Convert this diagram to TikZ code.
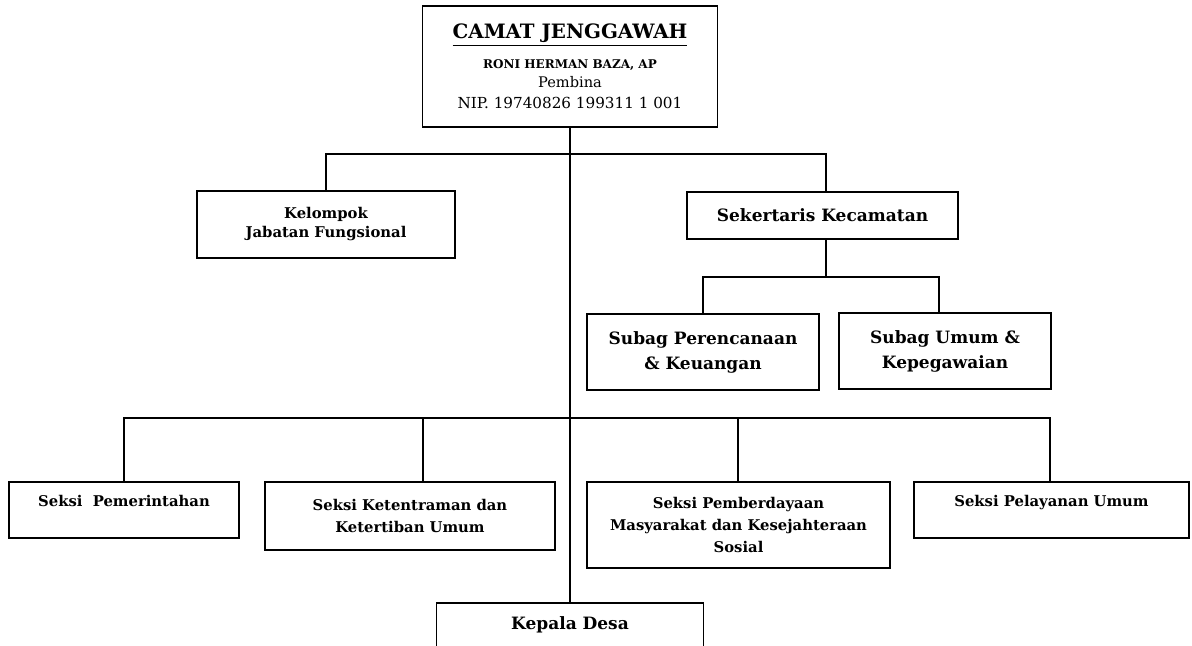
\documentclass[tikz,border=0pt]{standalone}
\usepackage{fontspec}
\setmainfont{DejaVu Serif}
\begin{document}
\begin{tikzpicture}[
	x=0.5pt, y=-0.5pt,
	unit/.style={draw, line width=0.9pt, align=center, inner sep=0pt, font=\bfseries\fontsize{8.5}{12.5}\selectfont},
	seksi/.style={unit, font=\bfseries\fontsize{7.4}{11}\selectfont},
	link/.style={line width=0.8pt}
	]
	\clip (0,0) rectangle (1192,646);
	
	% Camat
	\node[unit, minimum width=147.5pt, minimum height=60.5pt, font=\bfseries\fontsize{7.6}{9.5}\selectfont] (camat) at (570,66.5)
		{\underline{\fontsize{9.9}{9.5}\selectfont CAMAT JENGGAWAH}\\[5.5pt]
		{\fontsize{6}{9.5}\selectfont RONI HERMAN BAZA, AP}\\
		{\mdseries\fontsize{7.3}{9.5}\selectfont Pembina}\\[1pt]
		{\mdseries\fontsize{7.6}{9.5}\selectfont NIP. 19740826 199311 1 001}};
	
	% Level 1
	\node[seksi, font=\bfseries\fontsize{7.4}{9.5}\selectfont, minimum width=129pt, minimum height=33.5pt] (kelompok) at (326,224.5) {Kelompok\\Jabatan Fungsional};
	\node[unit, minimum width=135.5pt, minimum height=23.5pt] (sekcam) at (822.5,215.5) {Sekertaris Kecamatan};
	
	% Subag
	\node[unit, minimum width=116pt, minimum height=38pt] (subagp) at (703,352) {Subag Perencanaan\\\& Keuangan};
	\node[unit, minimum width=106pt, minimum height=38pt] (subagu) at (945,351) {Subag Umum \&\\Kepegawaian};
	
	% Seksi
	\node[seksi, minimum width=115pt, minimum height=28pt, text depth=9pt] (seksi1) at (124,510) {Seksi~~Pemerintahan};
	\node[seksi, minimum width=145pt, minimum height=34pt] (seksi2) at (410,516) {Seksi Ketentraman dan\\Ketertiban Umum};
	\node[seksi, minimum width=151.5pt, minimum height=43pt] (seksi3) at (738.5,525) {Seksi Pemberdayaan\\Masyarakat dan Kesejahteraan\\Sosial};
	\node[seksi, minimum width=137.5pt, minimum height=28pt, text depth=9pt] (seksi4) at (1051.5,510) {Seksi Pelayanan Umum};
	
	% Kepala Desa
	\node[unit, minimum width=133.5pt, minimum height=30pt, text depth=10pt, anchor=north] (desa) at (570,602) {Kepala Desa};
	
	% Junctions
	\coordinate (j1) at (570,154);
	\coordinate (j2) at (826,277);
	\coordinate (j3) at (570,418);
	
	% Connections
	\draw[link] (camat.south) -- (desa.north);
	\draw[link] (kelompok.north) |- (j1) -| ([xshift=1.75pt]sekcam.north);
	\draw[link] ([xshift=1.75pt]sekcam.south) -- (j2);
	\draw[link] (subagp.north) |- (j2) -| ([xshift=-3pt]subagu.north);
	\draw[link] (seksi1.north) |- (j3) -| ([xshift=-0.75pt]seksi4.north);
	\draw[link] ([xshift=6.5pt]seksi2.north) -- ([xshift=6.5pt]seksi2.north |- j3);
	\draw[link] ([xshift=-0.25pt]seksi3.north) -- ([xshift=-0.25pt]seksi3.north |- j3);
	
\end{tikzpicture}
\end{document}
